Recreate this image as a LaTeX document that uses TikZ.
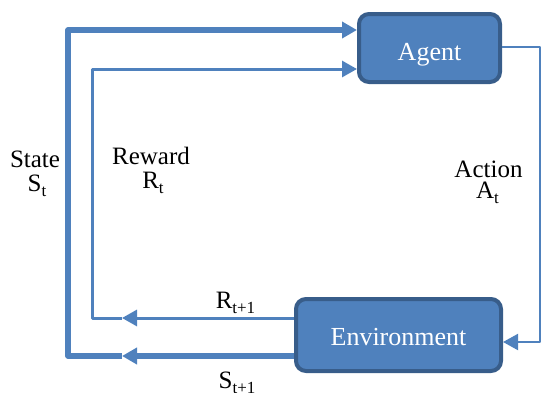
\documentclass[tikz,border=0pt]{standalone}
\usepackage{fontspec}
\setmainfont{Liberation Serif}
\usetikzlibrary{arrows.meta}
\definecolor{linecol}{HTML}{4F81BD}
\definecolor{boxfill}{HTML}{4F81BD}
\definecolor{boxline}{HTML}{385D8A}
\newcommand\mysub[1]{\raisebox{-5pt}{\fontsize{17}{17}\selectfont #1}}
\begin{document}
\begin{tikzpicture}[x=1pt,y=-1pt,
  box/.style={draw=boxline, fill=boxfill, line width=4pt, rounded corners=10pt,
    text=white, inner sep=0pt, font=\fontsize{26}{26}\selectfont},
  lbl/.style={anchor=base, inner sep=0pt, font=\fontsize{25}{25}\selectfont},
  conn/.style={draw=linecol, line join=round},
  tip/.style={-{Triangle[length=15pt,width=16pt]}}
]
\useasboundingbox (0,0) rectangle (542,392);
\node[box, minimum width=141pt, minimum height=68pt, text height=24pt, text depth=0pt] (agent) at (429.5,48) {Agent};
\node[box, minimum width=205pt, minimum height=72pt, text height=20pt, text depth=0pt] (env) at (398.5,335) {Environment};

\coordinate (sb) at (68,356);
\coordinate (st) at (68,30);
\coordinate (sm) at (122,356);
\coordinate (rb) at (92,318);
\coordinate (rt) at (92,69);
\coordinate (rm) at (122,318);
\coordinate (ar) at (540,47);
\coordinate (ab) at (540,342);

% state loop
\draw[conn, line width=5.5pt, tip] (env.west |- sb) -- (sm);
\draw[conn, line width=5.5pt, tip] (sm) -- (sb) -- (st) -- (agent.west |- st);
% reward loop
\draw[conn, line width=3pt, tip] (env.west |- rb) -- (rm);
\draw[conn, line width=3pt, tip] (rm) -- (rb) -- (rt) -- (agent.west |- rt);
% action
\draw[conn, line width=2pt, tip] (agent.east |- ar) -- (ar) -- (ab) -- (env.east |- ab);

\node[lbl] (stl1) at (35,167) {State};
\node[lbl] (stl2) at (37,191) {S\mysub{t}};
\node[lbl] (rwl1) at (151,164) {Reward};
\node[lbl] (rwl2) at (153,188) {R\mysub{t}};
\node[lbl] (acl1) at (488.5,177) {Action};
\node[lbl] (acl2) at (487.5,198) {A\mysub{t}};
\node[lbl] (rn) at (235.5,308) {R\mysub{t+1}};
\node[lbl] (sn) at (237,388) {S\mysub{t+1}};
\end{tikzpicture}
\end{document}
